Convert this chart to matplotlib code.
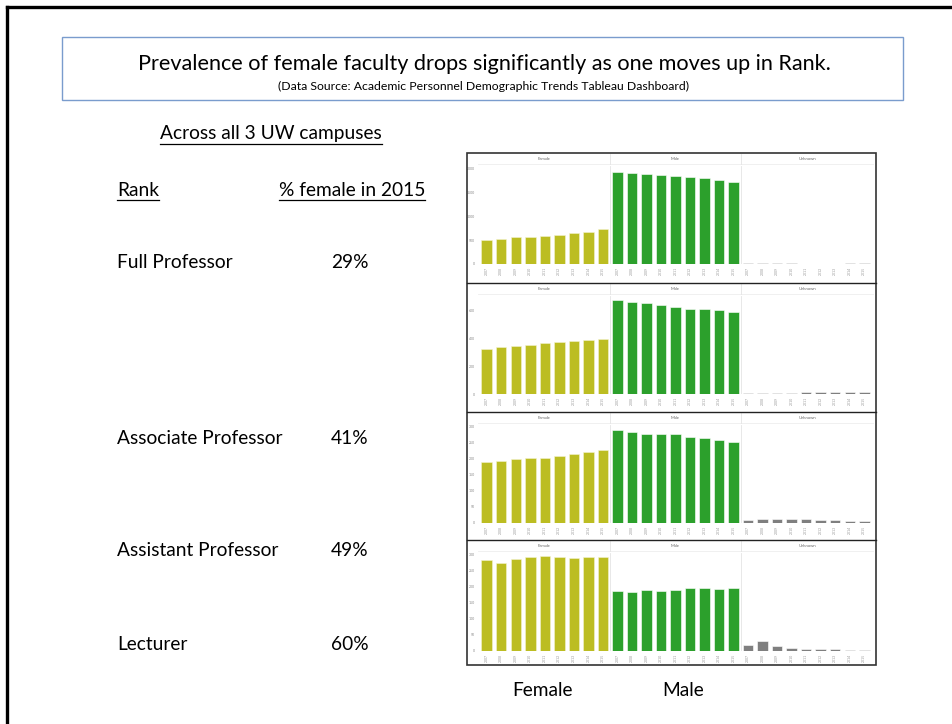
import matplotlib
matplotlib.use("Agg")
import matplotlib.pyplot as plt
from matplotlib.patches import Rectangle
from matplotlib.lines import Line2D
import numpy as np

W, H = 953, 724

# data (headcount, 2007-2015)
years = ['2007', '2008', '2009', '2010', '2011', '2012', '2013', '2014', '2015']
facets = ['Female', 'Male', 'Unknown']
ranks = ['Full Professor', 'Associate Professor', 'Assistant Professor', 'Lecturer']
pct_female = ['29%', '41%', '49%', '60%']

full_f = [507, 521, 562, 575, 582, 616, 644, 678, 726]
full_m = [1932, 1904, 1877, 1856, 1842, 1822, 1795, 1753, 1705]
full_u = [12, 14, 14, 13, 10, 10, 10, 14, 14]

assoc_f = [324, 336, 342, 352, 364, 374, 376, 384, 396]
assoc_m = [670, 654, 648, 636, 622, 610, 608, 598, 588]
assoc_u = [4, 6, 8, 8, 11, 14, 14, 13, 13]

asst_f = [191, 194, 200, 202, 201, 208, 216, 221, 227]
asst_m = [289, 283, 276, 276, 276, 269, 263, 258, 253]
asst_u = [9, 11, 11, 11, 11, 10, 8, 7, 7]

lect_f = [283, 274, 285, 294, 296, 291, 290, 294, 293]
lect_m = [188, 185, 190, 187, 190, 195, 196, 194, 195]
lect_u = [18, 32, 16, 9, 5, 5, 5, 2, 2]

panel_data = [(full_f, full_m, full_u), (assoc_f, assoc_m, assoc_u),
              (asst_f, asst_m, asst_u), (lect_f, lect_m, lect_u)]
yticks = [[0, 500, 1000, 1500, 2000], [0, 200, 400, 600],
          [0, 50, 100, 150, 200, 250, 300], [0, 50, 100, 150, 200, 250, 300]]
ytop = [2050, 700, 305, 305]

colors = ['#bcbd22', '#2ca02c', '#7f7f7f']

plt.rcParams['font.family'] = ['Lato', 'DejaVu Sans']


def fx(x):
    return x / W


def fy(y):
    return 1 - y / H


fig = plt.figure(figsize=(W / 100, H / 100), dpi=100)
fig.patch.set_facecolor('white')

# slide frame (left and top edges)
fig.add_artist(Line2D([fx(7), fx(7)], [fy(7), 0], color='black', lw=2.4))
fig.add_artist(Line2D([fx(7), 1], [fy(7), fy(7)], color='black', lw=2.4))

# title box
fig.add_artist(Rectangle((fx(62), fy(100)), fx(903) - fx(62), fy(37) - fy(100),
                         fill=False, edgecolor='#7a9ccd', lw=1.0))
fig.text(fx(484), fy(64), 'Prevalence of female faculty drops significantly as one moves up in Rank.',
         ha='center', va='center', fontsize=15.6)
fig.text(fx(484), fy(86), '(Data Source: Academic Personnel Demographic Trends Tableau Dashboard)',
         ha='center', va='center', fontsize=8.8)

body = 13.8
underlined = []
underlined.append(fig.text(fx(160), fy(134), 'Across all 3 UW campuses', ha='left', va='center', fontsize=body))
underlined.append(fig.text(fx(117), fy(190), 'Rank', ha='left', va='center', fontsize=body))
underlined.append(fig.text(fx(279), fy(190), '% female in 2015', ha='left', va='center', fontsize=body))

row_y = [263, 439, 551, 645]
for r, p, y in zip(ranks, pct_female, row_y):
    fig.text(fx(117), fy(y), r, ha='left', va='center', fontsize=body)
    fig.text(fx(331), fy(y), p, ha='left', va='center', fontsize=body)

fig.text(fx(543), fy(691), 'Female', ha='center', va='center', fontsize=body)
fig.text(fx(683), fy(691), 'Male', ha='center', va='center', fontsize=body)

# dashboard panels
tops = [153, 283, 412, 540]
bottoms = [283, 412, 540, 665]
x0, x1 = 478, 873
n = len(years)
for i, (fdat, mdat, udat) in enumerate(panel_data):
    top, bot = tops[i], bottoms[i]
    base = top + 111
    ax = fig.add_axes([fx(x0), fy(base), fx(x1) - fx(x0), fy(top + 13) - fy(base)])
    for k, series in enumerate([fdat, mdat, udat]):
        xs = np.arange(n) + k * n
        ax.bar(xs, series, width=0.72, color=colors[k], edgecolor='#f4f4d0' if k == 0 else 'white',
               linewidth=0.4)
    ax.set_xlim(-0.6, 3 * n - 0.4)
    ax.set_ylim(0, ytop[i])
    for b in [n - 0.5, 2 * n - 0.5]:
        ax.axvline(b, color='#e4e4e4', lw=0.6)
    ax.set_yticks(yticks[i])
    ax.set_yticklabels([str(t) for t in yticks[i]], fontsize=2.5, color='#888888')
    ax.set_xticks(np.arange(3 * n))
    ax.set_xticklabels(years * 3, rotation=90, fontsize=2.5, color='#999999')
    ax.tick_params(length=0, pad=2)
    for s in ax.spines.values():
        s.set_visible(False)
    # facet header
    for k, name in enumerate(facets):
        cx = x0 + (x1 - x0) * (k + 0.5) / 3
        fig.text(fx(cx), fy(top + 6), name, ha='center', va='center', fontsize=3, color='#666666')
    fig.add_artist(Line2D([fx(x0), fx(x1)], [fy(top + 11), fy(top + 11)], color='#eeeeee', lw=0.6))
    for b in [1, 2]:
        xb = x0 + (x1 - x0) * b / 3
        fig.add_artist(Line2D([fx(xb), fx(xb)], [fy(top + 1), fy(top + 11)], color='#e4e4e4', lw=0.6))
    # separator between panels
    if i > 0:
        fig.add_artist(Line2D([fx(467), fx(876)], [fy(top), fy(top)], color='#222222', lw=1.0))

fig.add_artist(Rectangle((fx(467), fy(665)), fx(876) - fx(467), fy(153) - fy(665),
                         fill=False, edgecolor='#333333', lw=1.2))

# underline the headings
fig.canvas.draw()
rend = fig.canvas.get_renderer()
for t in underlined:
    bb = t.get_window_extent(renderer=rend)
    yl = bb.y0 - 1
    fig.add_artist(Line2D([bb.x0 / W, bb.x1 / W], [yl / H, yl / H], color='black', lw=0.9))

fig.savefig('out.png', dpi=100)
